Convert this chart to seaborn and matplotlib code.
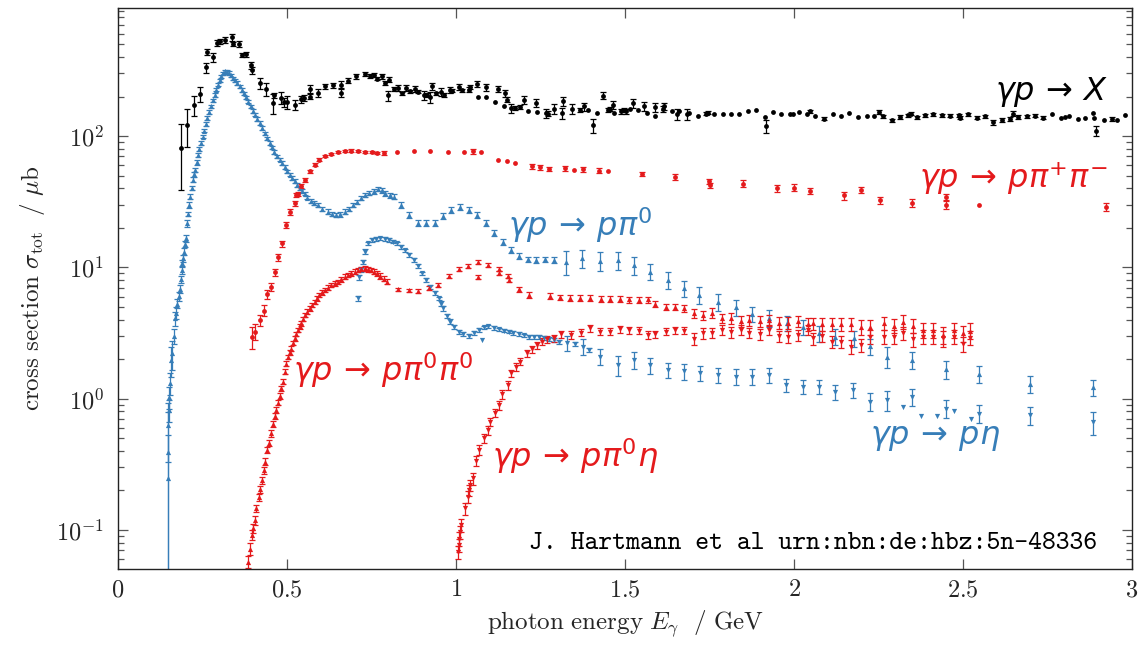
import numpy as np
import pandas as pd
import matplotlib
matplotlib.use("Agg")
import matplotlib.pyplot as plt
from matplotlib.ticker import LogLocator, NullFormatter, FuncFormatter
import seaborn as sns

# ---------------- data: photon energy (GeV), cross section (µb), error (µb) ----------------
# gamma p -> X (total)
X_E = [0.187, 0.205, 0.225, 0.243, 0.261, 0.264, 0.280, 0.294, 0.301, 0.318, 0.338, 0.340, 0.357, 0.367,
       0.378, 0.393, 0.397, 0.419, 0.439, 0.459, 0.461, 0.481, 0.490, 0.500, 0.523, 0.540, 0.550, 0.567,
       0.567, 0.592, 0.613, 0.636, 0.659, 0.659, 0.680, 0.705, 0.730, 0.745, 0.756, 0.766, 0.780, 0.791,
       0.799, 0.802, 0.816, 0.828, 0.840, 0.853, 0.865, 0.878, 0.889, 0.904, 0.914, 0.924, 0.929, 0.942,
       0.957, 0.964, 0.983, 0.988, 1.010, 1.018, 1.037, 1.040, 1.063, 1.065, 1.089, 1.090, 1.114, 1.125,
       1.141, 1.144, 1.150, 1.164, 1.174, 1.190, 1.200, 1.213, 1.238, 1.240, 1.267, 1.272, 1.289, 1.315,
       1.316, 1.343, 1.368, 1.378, 1.390, 1.404, 1.418, 1.435, 1.450, 1.456, 1.464, 1.466, 1.489, 1.497,
       1.503, 1.515, 1.525, 1.539, 1.557, 1.565, 1.589, 1.590, 1.613, 1.616, 1.639, 1.653, 1.660, 1.683,
       1.688, 1.715, 1.740, 1.746, 1.764, 1.789, 1.814, 1.838, 1.863, 1.889, 1.915, 1.917, 1.939, 1.963,
       1.988, 1.998, 2.014, 2.038, 2.048, 2.063, 2.090, 2.114, 2.139, 2.164, 2.190, 2.215, 2.238, 2.252,
       2.262, 2.289, 2.314, 2.338, 2.347, 2.363, 2.388, 2.412, 2.437, 2.461, 2.489, 2.492, 2.516, 2.540,
       2.565, 2.590, 2.614, 2.639, 2.648, 2.664, 2.688, 2.713, 2.738, 2.762, 2.789, 2.802, 2.815, 2.841,
       2.861, 2.886, 2.889, 2.894, 2.918, 2.940, 2.955, 2.980]
X_SIG = [81, 122, 173, 209, 333, 438, 397, 510, 526, 541, 564, 502, 502, 416,
         420, 345, 316, 253, 228, 178, 204, 195, 181, 181, 173, 191, 196, 228,
         200, 212, 239, 243, 246, 212, 264, 285, 297, 285, 293, 273, 285, 253,
         204, 268, 229, 233, 212, 233, 219, 230, 217, 204, 206, 197, 239, 212,
         217, 206, 225, 222, 235, 223, 225, 235, 249, 197, 235, 197, 181, 229,
         168, 212, 189, 163, 163, 166, 189, 154, 178, 153, 150, 148, 160, 150,
         184, 161, 158, 168, 158, 121, 150, 203, 158, 160, 173, 150, 154, 158,
         154, 161, 178, 158, 168, 150, 166, 143, 161, 168, 154, 146, 154, 146,
         150, 143, 148, 150, 146, 146, 146, 148, 154, 158, 140, 119, 153, 148,
         148, 148, 153, 148, 154, 141, 136, 148, 141, 149, 139, 141, 141, 153,
         141, 132, 140, 144, 148, 139, 144, 146, 144, 143, 144, 138, 146, 138,
         141, 127, 133, 135, 148, 139, 141, 143, 138, 148, 138, 139, 141, 135,
         138, 151, 138, 110, 133, 135, 132, 144]
X_ERR = [42, 40, 30, 28, 30, 25, 30, 25, 25, 30, 35, 20, 25, 15,
         20, 20, 20, 25, 25, 30, 10, 20, 15, 20, 15, 12, 10, 15,
         10, 15, 10, 12, 15, 15, 12, 12, 12, 10, 10, 8, 12, 8,
         18, 12, 8, 12, 6, 12, 6, 12, 6, 15, 6, 18, 15, 6,
         14, 6, 12, 6, 12, 6, 10, 8, 14, 0, 14, 0, 0, 12,
         0, 14, 8, 12, 6, 6, 14, 0, 12, 0, 12, 6, 14, 14,
         15, 14, 6, 12, 0, 15, 0, 12, 6, 6, 12, 0, 6, 6,
         6, 0, 14, 0, 14, 0, 14, 0, 8, 10, 0, 14, 0, 14,
         0, 0, 4, 4, 0, 0, 0, 0, 0, 0, 0, 14, 0, 0,
         0, 0, 0, 0, 5, 0, 4, 0, 0, 0, 0, 0, 0, 5,
         4, 4, 4, 4, 4, 4, 4, 4, 4, 4, 4, 4, 4, 4,
         4, 6, 5, 5, 6, 5, 4, 4, 4, 0, 0, 0, 0, 0,
         0, 0, 0, 10, 0, 4, 0, 0]

# gamma p -> p pi+ pi-
PPM_E = [0.395, 0.406, 0.419, 0.431, 0.442, 0.454, 0.464, 0.474, 0.484, 0.496, 0.509, 0.523, 0.528, 0.533,
         0.542, 0.554, 0.567, 0.582, 0.596, 0.611, 0.631, 0.651, 0.671, 0.690, 0.710, 0.730, 0.750, 0.765,
         0.786, 0.825, 0.875, 0.924, 0.975, 1.025, 1.050, 1.075, 1.124, 1.151, 1.176, 1.225, 1.249, 1.274,
         1.323, 1.348, 1.375, 1.424, 1.449, 1.549, 1.649, 1.749, 1.751, 1.848, 1.949, 1.999, 2.048, 2.149,
         2.198, 2.254, 2.348, 2.449, 2.451, 2.548, 2.923]
PPM_SIG = [2.96, 3.24, 3.97, 4.68, 6.27, 7.13, 9.17, 11.9, 15.2, 21.0, 26.4, 30.7, 35.5, 36.1,
           41.4, 46.5, 53.8, 60.5, 66.0, 70.8, 73.3, 75.5, 77.3, 77.5, 77.3, 76.0, 75.5, 74.6,
           74.6, 75.0, 76.5, 77.3, 75.0, 75.0, 76.5, 75.0, 65.3, 64.2, 62.3, 58.7, 58.0, 56.1,
           57.0, 55.0, 56.0, 54.5, 53.8, 51.6, 48.7, 45.2, 42.1, 43.4, 40.2, 40.5, 37.9, 35.3,
           39.0, 32.6, 31.0, 34.5, 29.8, 29.6, 29.0]
PPM_ERR = [0.55, 0.45, 0.4, 0.45, 0.5, 0.5, 0.5, 0.7, 0.8, 1.0, 1.2, 1.2, 1.2, 1.2,
           1.5, 1.5, 1.5, 1.5, 1.5, 1.5, 1.5, 1.5, 1.5, 1.5, 1.5, 1.5, 1.5, 1.5,
           2.5, 0, 0, 0, 0, 0, 3.0, 0, 0, 0, 0, 2.5, 2.5, 2.0,
           2.5, 0, 2.5, 2.5, 0, 2.0, 2.5, 2.0, 2.0, 2.5, 2.5, 2.5, 2.0, 2.5,
           2.0, 2.0, 2.0, 2.0, 2.0, 0, 2.0]

# gamma p -> p pi0
PI0_E = [0.147, 0.148, 0.149, 0.150, 0.152, 0.155, 0.158, 0.160, 0.165, 0.170, 0.172, 0.176, 0.179, 0.182,
         0.185, 0.188, 0.190, 0.192, 0.195, 0.198, 0.200, 0.204, 0.207, 0.210, 0.214, 0.218, 0.222, 0.226,
         0.229, 0.233, 0.237, 0.241, 0.245, 0.250, 0.254, 0.259, 0.264, 0.269, 0.274, 0.280, 0.286, 0.291,
         0.296, 0.301, 0.306, 0.312, 0.318, 0.322, 0.327, 0.333, 0.340, 0.346, 0.353, 0.360, 0.367, 0.373,
         0.380, 0.386, 0.393, 0.399, 0.406, 0.412, 0.419, 0.426, 0.434, 0.441, 0.449, 0.456, 0.463, 0.470,
         0.478, 0.485, 0.493, 0.500, 0.508, 0.515, 0.523, 0.530, 0.537, 0.545, 0.552, 0.560, 0.570, 0.580,
         0.592, 0.605, 0.621, 0.633, 0.646, 0.658, 0.671, 0.683, 0.695, 0.708, 0.720, 0.732, 0.744, 0.756,
         0.768, 0.780, 0.791, 0.804, 0.816, 0.838, 0.862, 0.888, 0.912, 0.937, 0.962, 0.986, 1.011, 1.037,
         1.062, 1.089, 1.113, 1.138, 1.163, 1.187, 1.213, 1.238, 1.262, 1.289, 1.325, 1.373, 1.427, 1.479,
         1.528, 1.574, 1.626, 1.674, 1.720, 1.774, 1.828, 1.876, 1.927, 1.978, 2.026, 2.073, 2.122, 2.177,
         2.226, 2.276, 2.350, 2.450, 2.548, 2.698, 2.886]
PI0_SIG = [0.25, 0.39, 0.63, 0.82, 1.03, 1.31, 1.97, 2.21, 3.0, 4.1, 4.5, 5.3, 6.05, 6.9,
           8.1, 9.5, 10.8, 11.7, 13.2, 15.0, 16.6, 21.6, 25.5, 29.8, 34.5, 40.0, 46.5, 51.0,
           54.8, 63.0, 72.0, 80.0, 88.5, 99.0, 110, 123, 137, 152, 168, 187, 206, 226,
           246, 266, 285, 300, 311, 308, 302, 290, 276, 265, 253, 239, 225, 211,
           197, 183, 168, 156, 145, 135, 126, 115, 105, 96.0, 88.5, 82.0, 75.5, 70.0,
           66.0, 62.0, 57.8, 54.0, 50.7, 48.0, 45.2, 42.5, 40.2, 38.0, 36.5, 34.0, 32.0, 31.0,
           29.9, 28.0, 26.6, 25.5, 25.0, 25.3, 26.6, 28.0, 29.9, 31.5, 33.5, 35.5, 36.7, 38.0,
           39.5, 38.5, 36.7, 35.5, 34.5, 29.9, 25.0, 21.9, 21.7, 21.9, 24.7, 27.4, 28.7, 27.4,
           25.0, 21.9, 18.4, 15.7, 13.5, 12.2, 11.5, 11.4, 11.5, 11.4, 11.0, 11.7, 11.2, 11.4,
           10.4, 9.27, 8.0, 6.92, 6.15, 5.47, 4.96, 4.41, 4.14, 3.75, 3.53, 3.15, 2.97, 2.88,
           2.52, 2.09, 1.97, 1.67, 1.54, 1.30, 1.22]
PI0_ERR = [0.28, 0.40, 0.30, 0.15, 0.20, 0.25, 0.50, 0.55, 0.40, 0.50, 0.45, 0.40, 0.50, 0.50,
           0.50, 0.60, 0.60, 0.70, 0.80, 0.80, 0.90, 1.2, 1.0, 1.5, 1.5, 1.5, 2.0, 2.0,
           2.0, 2.5, 2.5, 3.0, 3.0, 3.0, 3.5, 4.0, 4.0, 5.0, 5.0, 6.0, 6.0, 7.0,
           7.0, 8.0, 8.0, 9.0, 9.0, 9.0, 9.0, 9.0, 8.0, 8.0, 8.0, 7.0, 7.0, 6.0,
           6.0, 5.0, 5.0, 5.0, 4.0, 4.0, 4.0, 3.5, 3.0, 3.0, 2.5, 2.5, 2.5, 2.0,
           2.0, 2.0, 2.0, 1.5, 1.5, 1.5, 1.5, 1.5, 1.2, 1.2, 1.2, 1.0, 1.0, 1.0,
           1.0, 1.0, 1.0, 1.0, 1.0, 1.0, 1.0, 1.0, 1.0, 1.0, 1.2, 1.2, 1.2, 1.5,
           1.5, 1.5, 1.5, 1.5, 1.5, 1.5, 1.3, 1.2, 1.2, 1.2, 1.3, 1.4, 1.5, 1.4,
           1.3, 1.2, 1.0, 0.8, 0.7, 0.6, 0.6, 0.6, 0.6, 0.6, 2.3, 1.8, 1.8, 1.8,
           1.7, 1.3, 1.15, 1.0, 0.9, 0.8, 0.7, 0.6, 0.6, 0.5, 0.45, 0.45, 0.4, 0.4,
           0.35, 0.37, 0.30, 0.25, 0.22, 0.20, 0.18]

# gamma p -> p eta
ETA_E = [0.709, 0.712, 0.718, 0.725, 0.730, 0.740, 0.751, 0.763, 0.776, 0.789, 0.801, 0.813, 0.825, 0.838,
         0.850, 0.862, 0.875, 0.887, 0.899, 0.912, 0.924, 0.937, 0.949, 0.956, 0.963, 0.973, 0.983, 0.995,
         1.008, 1.022, 1.037, 1.052, 1.067, 1.077, 1.082, 1.096, 1.111, 1.126, 1.141, 1.156, 1.170, 1.185,
         1.200, 1.215, 1.230, 1.245, 1.260, 1.274, 1.289, 1.304, 1.328, 1.353, 1.375, 1.394, 1.427, 1.479,
         1.528, 1.574, 1.626, 1.674, 1.722, 1.774, 1.828, 1.876, 1.927, 1.976, 2.026, 2.073, 2.122, 2.174,
         2.226, 2.274, 2.323, 2.350, 2.375, 2.424, 2.449, 2.473, 2.523, 2.548, 2.698, 2.886]
ETA_SIG = [5.8, 8.4, 9.6, 11.0, 13.2, 15.2, 16.1, 16.5, 16.6, 16.4, 16.1, 15.7, 15.2, 14.4,
           13.5, 12.5, 11.4, 10.2, 9.0, 8.0, 7.1, 6.4, 5.8, 5.3, 4.88, 4.3, 3.86, 3.5,
           3.24, 3.1, 3.02, 3.15, 3.33, 2.8, 3.5, 3.57, 3.45, 3.37, 3.3, 3.24, 3.17, 3.1,
           3.03, 2.97, 2.97, 2.97, 2.9, 2.83, 2.78, 2.72, 2.65, 2.6, 2.49, 2.35, 2.09, 1.8,
           1.97, 1.8, 1.65, 1.62, 1.56, 1.52, 1.47, 1.47, 1.52, 1.27, 1.23, 1.23, 1.13, 1.16,
           0.95, 0.98, 0.87, 1.03, 0.74, 0.74, 0.84, 0.81, 0.70, 0.77, 0.75, 0.66]
ETA_ERR = [0.3, 0.4, 0.4, 0.4, 0.5, 0.5, 0.5, 0.5, 0.5, 0.5, 0.5, 0.5, 0.5, 0.5,
           0.4, 0.4, 0.4, 0.35, 0.3, 0.3, 0.25, 0.25, 0.2, 0.2, 0.2, 0.15, 0.15, 0.12,
           0.12, 0.1, 0.1, 0.1, 0.1, 0, 0.1, 0.1, 0.1, 0.1, 0.1, 0.1, 0.1, 0.1,
           0.1, 0.1, 0.1, 0.1, 0.1, 0.1, 0.1, 0.1, 0.35, 0.1, 0.35, 0.1, 0.3, 0.3,
           0.3, 0.25, 0.22, 0.22, 0.2, 0.2, 0.2, 0.2, 0.2, 0.15, 0.15, 0.15, 0.15, 0.15,
           0.15, 0.17, 0, 0.15, 0, 0, 0.13, 0, 0, 0.12, 0.12, 0.13]

# gamma p -> p pi0 pi0
P2_E = [0.385, 0.391, 0.396, 0.399, 0.404, 0.409, 0.416, 0.421, 0.426, 0.431, 0.436, 0.442, 0.447, 0.454,
        0.459, 0.464, 0.468, 0.473, 0.478, 0.483, 0.488, 0.493, 0.498, 0.503, 0.508, 0.513, 0.518, 0.523,
        0.528, 0.533, 0.538, 0.542, 0.548, 0.554, 0.560, 0.567, 0.575, 0.582, 0.589, 0.596, 0.604, 0.611,
        0.621, 0.631, 0.641, 0.651, 0.661, 0.671, 0.681, 0.690, 0.700, 0.710, 0.720, 0.730, 0.740, 0.749,
        0.757, 0.766, 0.776, 0.786, 0.796, 0.828, 0.860, 0.889, 0.919, 0.947, 0.978, 1.010, 1.036, 1.065,
        1.065, 1.096, 1.126, 1.128, 1.154, 1.156, 1.185, 1.215, 1.279, 1.309, 1.338, 1.368, 1.397, 1.430,
        1.457, 1.486, 1.513, 1.540, 1.567, 1.590, 1.621, 1.649, 1.676, 1.703, 1.730, 1.757, 1.787, 1.814,
        1.842, 1.868, 1.898, 1.927, 1.955, 1.982, 2.012, 2.040, 2.056, 2.083, 2.111, 2.140, 2.168, 2.197,
        2.226, 2.265, 2.295, 2.323, 2.353, 2.383, 2.411, 2.441, 2.473, 2.500, 2.522]
P2_SIG = [0.057, 0.072, 0.092, 0.103, 0.119, 0.146, 0.177, 0.204, 0.24, 0.286, 0.331, 0.406, 0.462, 0.545,
          0.641, 0.738, 0.82, 0.93, 1.05, 1.2, 1.35, 1.6, 1.85, 2.08, 2.25, 2.41, 2.65, 2.88,
          3.1, 3.33, 3.55, 3.75, 4.05, 4.34, 4.6, 4.88, 5.2, 5.47, 5.8, 6.15, 6.45, 6.71,
          7.0, 7.33, 7.55, 7.78, 8.1, 8.49, 8.75, 9.01, 9.3, 9.55, 9.7, 9.84, 9.7, 9.55,
          9.3, 9.0, 8.6, 8.2, 7.78, 6.8, 6.7, 6.6, 7.0, 7.3, 8.6, 9.7, 10.2, 11.0,
          8.4, 10.4, 9.8, 9.1, 8.6, 8.0, 6.8, 6.15, 6.05, 5.9, 5.85, 5.85, 5.85, 5.72,
          5.72, 5.72, 5.7, 5.65, 5.7, 5.26, 5.0, 5.0, 4.88, 4.5, 4.34, 4.5, 4.1, 4.1,
          3.9, 3.95, 3.9, 3.95, 3.78, 3.78, 3.9, 3.7, 3.75, 3.7, 3.7, 3.7, 3.7, 3.53,
          3.53, 3.77, 3.6, 3.87, 3.6, 3.33, 3.33, 3.06, 3.33, 3.15, 3.3]
P2_ERR = [0.006, 0.007, 0.008, 0.008, 0.009, 0.01, 0.012, 0.013, 0.015, 0.017, 0.02, 0.022, 0.025, 0.03,
          0.03, 0.035, 0.04, 0.04, 0.05, 0.05, 0.06, 0.07, 0.08, 0.09, 0.1, 0.1, 0.1, 0.12,
          0.12, 0.13, 0.14, 0.15, 0.16, 0.17, 0.18, 0.2, 0.2, 0.22, 0.23, 0.25, 0.25, 0.27,
          0.28, 0.3, 0.3, 0.3, 0.32, 0.34, 0.35, 0.36, 0.37, 0.38, 0.39, 0.4, 0.4, 0.4,
          0.4, 0.4, 0.4, 0.35, 0.35, 0.2, 0.2, 0.2, 0.25, 0.25, 0.3, 0.3, 0.35, 0.4,
          0.3, 0.4, 0.35, 0.3, 0.3, 0.3, 0.3, 0.3, 0.3, 0.3, 0.3, 0.3, 0.3, 0.3,
          0.3, 0.3, 0.3, 0.3, 0.3, 0.3, 0.3, 0.3, 0.3, 0.35, 0.35, 0.4, 0.35, 0.4,
          0.4, 0.4, 0.4, 0.4, 0.4, 0.4, 0.4, 0.4, 0.4, 0.4, 0.4, 0.4, 0.45, 0.45,
          0.45, 0.45, 0.45, 0.5, 0.45, 0.45, 0.45, 0.45, 0.45, 0.45, 0.45]

# gamma p -> p pi0 eta
PE_E = [1.006, 1.008, 1.010, 1.013, 1.016, 1.027, 1.036, 1.038, 1.040, 1.050, 1.060, 1.067, 1.082, 1.095,
        1.100, 1.114, 1.126, 1.136, 1.154, 1.164, 1.178, 1.190, 1.210, 1.225, 1.240, 1.254, 1.269, 1.289,
        1.311, 1.341, 1.371, 1.397, 1.427, 1.457, 1.486, 1.513, 1.540, 1.567, 1.590, 1.621, 1.649, 1.676,
        1.703, 1.730, 1.757, 1.787, 1.814, 1.842, 1.868, 1.898, 1.927, 1.955, 1.982, 2.012, 2.040, 2.056,
        2.083, 2.111, 2.140, 2.168, 2.197, 2.226, 2.265, 2.295, 2.323, 2.353, 2.383, 2.411, 2.441, 2.473,
        2.500, 2.522]
PE_SIG = [0.068, 0.077, 0.086, 0.097, 0.109, 0.146, 0.179, 0.201, 0.22, 0.247, 0.337, 0.406, 0.499, 0.577,
          0.668, 0.782, 0.895, 1.08, 1.27, 1.56, 1.75, 1.91, 2.21, 2.37, 2.56, 2.72, 2.83, 2.88,
          3.1, 3.05, 3.18, 3.43, 3.24, 3.24, 3.37, 3.33, 3.3, 3.06, 3.1, 3.24, 3.33, 3.3,
          2.85, 3.15, 3.18, 3.33, 3.2, 3.35, 3.18, 3.1, 3.33, 3.0, 2.97, 3.05, 3.35, 2.88,
          3.0, 2.72, 2.72, 2.49, 2.55, 2.97, 2.97, 2.97, 3.15, 2.83, 2.97, 2.97, 2.88, 2.97,
          2.6, 2.9]
PE_ERR = [0.008, 0.009, 0.01, 0.011, 0.012, 0.015, 0.018, 0.02, 0.022, 0.025, 0.03, 0.035, 0.04, 0.045,
          0.05, 0.06, 0.07, 0.08, 0.1, 0.1, 0.12, 0.12, 0.14, 0.15, 0.15, 0.16, 0.17, 0.17,
          0.2, 0.2, 0.2, 0.2, 0.2, 0.2, 0.2, 0.2, 0.2, 0.2, 0.2, 0.2, 0.2, 0.2,
          0.3, 0.3, 0.3, 0.3, 0.3, 0.3, 0.3, 0.3, 0.3, 0.3, 0.3, 0.3, 0.3, 0.3,
          0.3, 0.3, 0.3, 0.3, 0.3, 0.35, 0.35, 0.35, 0.35, 0.35, 0.35, 0.35, 0.4, 0.35,
          0.35, 0.35]

BLACK = "#000000"
RED = "#e41a1c"
BLUE = "#377eb8"

# ---------------- style ----------------
sns.set_theme(style="ticks")
plt.rcParams["font.family"] = ["DejaVu Sans"]
plt.rcParams["mathtext.fontset"] = "cm"

fig = plt.figure(figsize=(11.43, 6.46), dpi=100)
ax = fig.add_axes([118 / 1143, 1 - 569 / 646, (1132 - 118) / 1143, (569 - 8) / 646])
ax.set_yscale("log")
ax.set_xlim(0, 3)
ax.set_ylim(0.0505, 944)


def draw_series(E, S, ERR, color, marker, size):
    df = pd.DataFrame({"E": E, "sigma": S, "err": ERR})
    with_err = df[df["err"] > 0]
    ax.errorbar(with_err["E"], with_err["sigma"], yerr=with_err["err"], fmt="none",
                ecolor=color, elinewidth=0.9, capsize=2.3, capthick=0.9, zorder=2)
    sns.scatterplot(data=df, x="E", y="sigma", marker=marker, color=color, s=size,
                    linewidth=0, edgecolor=color, ax=ax, zorder=3, legend=False)


draw_series(X_E, X_SIG, X_ERR, BLACK, "o", 12)
draw_series(PI0_E, PI0_SIG, PI0_ERR, BLUE, "^", 14)
draw_series(PPM_E, PPM_SIG, PPM_ERR, RED, "o", 12)
draw_series(ETA_E, ETA_SIG, ETA_ERR, BLUE, "v", 14)
draw_series(P2_E, P2_SIG, P2_ERR, RED, "^", 14)
draw_series(PE_E, PE_SIG, PE_ERR, RED, "v", 14)

# ---------------- axes ----------------
ax.set_xticks([0, 0.5, 1, 1.5, 2, 2.5, 3])
ax.set_xticklabels([r"$0$", r"$0.5$", r"$1$", r"$1.5$", r"$2$", r"$2.5$", r"$3$"])
ax.yaxis.set_major_locator(LogLocator(base=10, numticks=10))
ax.yaxis.set_minor_locator(LogLocator(base=10, subs=np.arange(2, 10), numticks=20))
ax.yaxis.set_minor_formatter(NullFormatter())
ax.yaxis.set_major_formatter(FuncFormatter(lambda v, _: r"$10^{%d}$" % int(round(np.log10(v)))))
ax.tick_params(which="both", direction="in", top=True, right=True, color="#555555",
               labelsize=17.5, width=0.9)
ax.tick_params(which="major", length=7)
ax.tick_params(which="minor", length=4)
ax.tick_params(axis="x", pad=6)
ax.tick_params(axis="y", pad=10)
for sp in ax.spines.values():
    sp.set_color("#222222")
    sp.set_linewidth(1.0)

ax.set_xlabel(r"$\mathrm{photon\ energy}\ E_\gamma\ \ /\ \mathrm{GeV}$", fontsize=18, labelpad=5)
ax.set_ylabel(r"$\mathrm{cross\ section}\ \sigma_\mathrm{tot}\ \ /\ \mu\mathrm{b}$", fontsize=18, labelpad=7)

# ---------------- reaction labels ----------------
lab = dict(fontsize=23, math_fontfamily="dejavusans", va="center")
ax.text(2.929, 216, r"$\gamma p \,\rightarrow\, X$", color=BLACK, ha="right", **lab)
ax.text(2.929, 47.9, r"$\gamma p \,\rightarrow\, p\pi^{+}\pi^{-}$", color=RED, ha="right", **lab)
ax.text(1.154, 21.0, r"$\gamma p \,\rightarrow\, p\pi^{0}$", color=BLUE, ha="left", **lab)
ax.text(0.518, 1.65, r"$\gamma p \,\rightarrow\, p\pi^{0}\pi^{0}$", color=RED, ha="left", **lab)
ax.text(1.107, 0.366, r"$\gamma p \,\rightarrow\, p\pi^{0}\eta$", color=RED, ha="left", **lab)
ax.text(2.225, 0.51, r"$\gamma p \,\rightarrow\, p\eta$", color=BLUE, ha="left", **lab)
ax.text(2.896, 0.0796, "J. Hartmann et al urn:nbn:de:hbz:5n-48336", family="cmtt10",
        fontsize=19, color=BLACK, ha="right", va="center")

fig.savefig("out.png", dpi=100)
